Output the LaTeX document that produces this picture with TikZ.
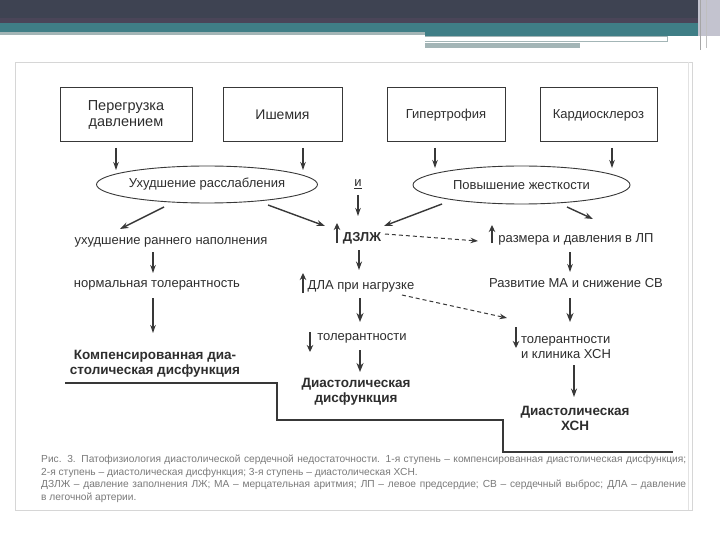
\documentclass[tikz,border=0pt]{standalone}
\usepackage{fontspec}
\setmainfont{Liberation Sans}
\usetikzlibrary{shapes.geometric,arrows.meta}
\definecolor{hdr}{HTML}{3E4352}
\definecolor{hdrb}{HTML}{4A4558}
\definecolor{tealc}{HTML}{3F7E86}
\definecolor{gline}{HTML}{A3B5B6}
\definecolor{rstrip}{HTML}{C3C3CF}
\definecolor{frm}{HTML}{D6D6D6}
\definecolor{ink}{HTML}{2E2E2E}
\definecolor{lin}{HTML}{383838}
\definecolor{capc}{HTML}{7A7A7A}
\begin{document}
\begin{tikzpicture}[x=1pt,y=-1pt,
  every node/.style={text=ink, font=\fontsize{13}{15}\selectfont},
  box/.style={draw=lin, line width=1pt, minimum width=#1, minimum height=54pt, align=center, inner sep=0pt},
  ell/.style={ellipse, draw=lin, line width=0.9pt, minimum width=#1, minimum height=37pt, inner sep=0pt},
  txt/.style={inner sep=0pt, text height=0.72em, text depth=0.22em},
  bt/.style={inner sep=0pt, align=center, font=\bfseries\fontsize{13.5}{15}\selectfont},
  arr/.style={-{Stealth[length=8pt,width=5.5pt]}, line width=1.1pt, draw=lin},
  marr/.style={-{Stealth[length=8.5pt,width=6pt]}, line width=1.4pt, draw=lin},
  barr/.style={-{Stealth[length=9pt,width=7pt]}, line width=2pt, draw=lin},
  ind/.style={-{Stealth[length=7pt,width=6.5pt]}, line width=2.4pt, draw=lin},
  dsh/.style={-{Stealth[length=7.5pt,width=5.5pt]}, line width=1pt, draw=lin, dash pattern=on 4pt off 3pt}
]
\useasboundingbox (0,0) rectangle (720,540);
\fill[white] (0,0) rectangle (720,540);
% header
\fill[hdr] (0,0) rectangle (698,23);
\fill[hdrb] (0,18) rectangle (698,23);
\fill[tealc] (0,23) rectangle (698,32);
\fill[tealc] (425,32) rectangle (698,36);
\fill[gline] (0,32) rectangle (425,35);
\fill[white] (425,37) rectangle (667,41);
\draw[gline, line width=0.6pt] (425,36.5) -- (667,36.5) -- (667,41.5) -- (425,41.5);
\fill[gline] (425,43) rectangle (580,48);
\fill[rstrip] (698,0) rectangle (720,36);
\draw[gray!70, line width=0.8pt] (700,0) -- (700,50);
\draw[gray!50, line width=0.8pt] (706,0) -- (706,48);
% frame of scanned figure
\draw[frm, line width=0.8pt, fill=white] (15,62) rectangle (692,510);
\draw[frm!70, line width=0.6pt] (688,62) -- (688,510);

% nodes
\node[box=132pt, font=\fontsize{14.5}{15.5}\selectfont] (b1) at (126,115) {Перегрузка\\давлением};
\node[box=119pt, font=\fontsize{14}{15}\selectfont] (b2) at (282.5,115) {Ишемия};
\node[box=118pt] (b3) at (446,115) {Гипертрофия};
\node[box=117pt] (b4) at (598.5,115) {Кардиосклероз};
\node[ell=220pt] (e1) at (207,184.5) {Ухудшение расслабления};
\node[ell=217pt, minimum height=38pt] (e2) at (521.5,185) {Повышение жесткости};
\node[txt] (i) at (358,184) {\underline{и}};
\node[txt, font=\bfseries\fontsize{13}{15}\selectfont] (dz) at (362,239) {ДЗЛЖ};
\node[txt] (lp) at (576,240) {размера и давления в ЛП};
\node[txt] (ul) at (171,242) {ухудшение раннего наполнения};
\node[txt] (nt) at (157,285) {нормальная толерантность};
\node[bt] (kd) at (155,364) {Компенсированная диа-\\столическая дисфункция};
\node[txt] (dla) at (361,287) {ДЛА при нагрузке};
\node[txt] (tol) at (362,338) {толерантности};
\node[bt] (dd) at (356,392) {Диастолическая\\дисфункция};
\node[txt] (ma) at (576,285) {Развитие МА и снижение СВ};
\node[inner sep=0pt, align=left] (tx) at (566,348) {толерантности\\и клиника ХСН};
\node[bt] (dx) at (575,418) {Диастолическая\\ХСН};

% connectors
\draw[arr] ([shift={(-10,33)}]b1.center) -- ([shift={(-91,-14.5)}]e1.center);
\draw[arr] ([shift={(20.5,33)}]b2.center) -- ([shift={(96,-14.5)}]e1.center);
\draw[arr] ([shift={(-11,33)}]b3.center) -- ([shift={(-86.5,-17)}]e2.center);
\draw[arr] ([shift={(13.5,33)}]b4.center) -- ([shift={(90.5,-17)}]e2.center);
\draw[marr] ([shift={(-43,22.5)}]e1.center) -- ([shift={(-51,-13)}]ul.center);
\draw[marr] ([shift={(61,20.5)}]e1.center) -- ([shift={(-37,-13)}]dz.center);
\draw[marr] ([shift={(-79.5,19)}]e2.center) -- ([shift={(22,-13)}]dz.center);
\draw[marr] ([shift={(45.5,22)}]e2.center) -- ([shift={(17,-21)}]lp.center);
\draw[arr] ([shift={(0,11)}]i.center) -- ([shift={(-4,-23)}]dz.center);
\draw[dsh] ([shift={(23,-5)}]dz.center) -- ([shift={(-98,1)}]lp.center);
\draw[marr] ([shift={(-3,11)}]dz.center) -- ([shift={(-2,-17)}]dla.center);
\draw[dsh] ([shift={(41,8)}]dla.center) -- ([shift={(-59,-30)}]tx.center);
\draw[barr] ([shift={(-1,11)}]dla.center) -- ([shift={(-2,-16)}]tol.center);
\draw[barr] ([shift={(-2,12)}]tol.center) -- ([shift={(4,-20)}]dd.center);
\draw[arr] ([shift={(-18,10)}]ul.center) -- ([shift={(-4,-12)}]nt.center);
\draw[arr] ([shift={(-4,13)}]nt.center) -- ([shift={(-2,-31)}]kd.center);
\draw[arr] ([shift={(-6,12)}]lp.center) -- ([shift={(-6,-13)}]ma.center);
\draw[barr] ([shift={(-6,13)}]ma.center) -- ([shift={(4,-26)}]tx.center);
\draw[marr] ([shift={(8,17)}]tx.center) -- ([shift={(-1,-21)}]dx.center);

% indicator arrows
\draw[ind] ([shift={(-25,4)}]dz.center) -- ++(0,-20);
\draw[ind] ([shift={(-58,6)}]dla.center) -- ++(0,-20);
\draw[ind] ([shift={(-52,-6)}]tol.center) -- ++(0,20);
\draw[ind] ([shift={(-84,3)}]lp.center) -- ++(0,-18);
\draw[ind] ([shift={(-50,-21)}]tx.center) -- ++(0,21);

% stage line
\draw[lin, line width=1.3pt] (65,383) -- (277,383) -- (277,420) -- (503,420) -- (503,452) -- (673,452);

% caption
\node[anchor=north west, inner sep=0pt, align=left, text=capc,
      font=\fontsize{10.2}{12.6}\selectfont] (cap) at (41,455)
{\makebox[645pt][s]{Рис. 3. Патофизиология диастолической сердечной недостаточности. 1-я ступень – компенсированная диастолическая дисфункция;}\\
2-я ступень – диастолическая дисфункция; 3-я ступень – диастолическая ХСН.\\
\makebox[645pt][s]{ДЗЛЖ – давление заполнения ЛЖ; МА – мерцательная аритмия; ЛП – левое предсердие; СВ – сердечный выброс; ДЛА – давление}\\
в легочной артерии.};
\end{tikzpicture}
\end{document}
